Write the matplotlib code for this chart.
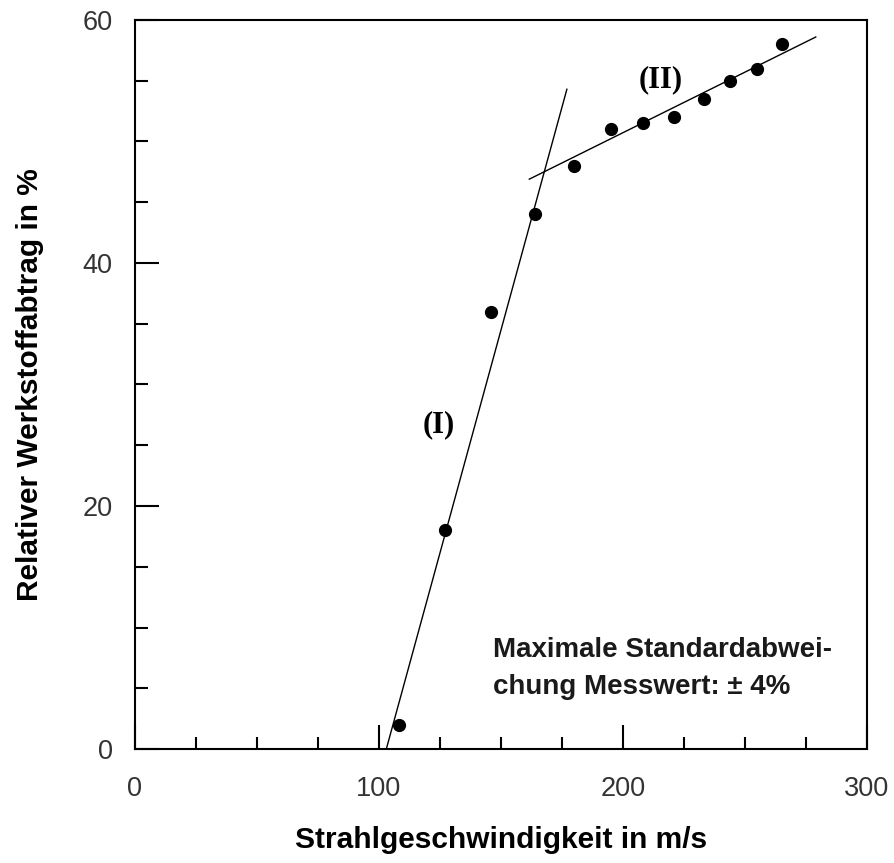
import matplotlib
matplotlib.use("Agg")
import matplotlib.pyplot as plt
from matplotlib.ticker import MultipleLocator

# Messwerte
geschw = [108, 127, 146, 164, 180, 195, 208, 221, 233, 244, 255, 265]
abtrag = [2, 18, 36, 44, 48, 51, 51.5, 52, 53.5, 55, 56, 58]

# Ausgleichsgeraden (I) und (II)
fit1_x = [103, 177]
fit1_y = [0, 54.3]
fit2_x = [161.6, 279]
fit2_y = [46.9, 58.6]

plt.rcParams['font.family'] = ['Liberation Sans', 'DejaVu Sans']

fig = plt.figure(figsize=(8.94, 8.63), dpi=100)
ax = fig.add_axes([135 / 894, 1 - 749 / 863, (867 - 135) / 894, (749 - 20) / 863])

ax.plot(fit1_x, fit1_y, color='black', linewidth=1)
ax.plot(fit2_x, fit2_y, color='black', linewidth=1)
ax.plot(geschw, abtrag, 'o', color='black', markersize=8.5)

ax.set_xlim(0, 300)
ax.set_ylim(0, 60)
ax.xaxis.set_major_locator(MultipleLocator(100))
ax.xaxis.set_minor_locator(MultipleLocator(25))
ax.yaxis.set_major_locator(MultipleLocator(20))
ax.yaxis.set_minor_locator(MultipleLocator(5))
ax.tick_params(which='both', direction='in', top=False, right=False, width=1.5,
               labelsize=19.5, labelcolor='#333333')
ax.tick_params(which='major', length=17, pad=16)
ax.tick_params(axis='x', which='major', pad=19.5)
ax.tick_params(which='minor', length=9)
for s in ax.spines.values():
    s.set_linewidth(1.5)

ax.set_xlabel('Strahlgeschwindigkeit in m/s', fontsize=21.5, fontweight='bold', labelpad=17)
ax.set_ylabel('Relativer Werkstoffabtrag in %', fontsize=21.5, fontweight='bold', labelpad=28)

ax.text(124.6, 26.7, '(I)', family='Liberation Serif', fontweight='bold', fontsize=22, ha='center', va='center')
ax.text(215.6, 55.1, '(II)', family='Liberation Serif', fontweight='bold', fontsize=22, ha='center', va='center')
ax.text(146.7, 6.6, 'Maximale Standardabwei-\nchung Messwert: \u00b1 4%', fontsize=20, fontweight='bold',
        color='#1a1a1a', ha='left', va='center', linespacing=1.55)

fig.savefig('out.png', dpi=100)
